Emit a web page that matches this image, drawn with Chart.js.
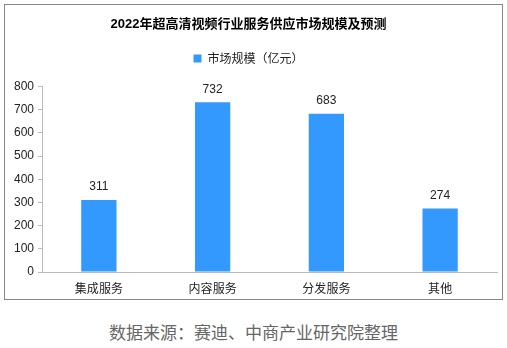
<!DOCTYPE html>
<html><head><meta charset="utf-8">
<script src="https://cdn.jsdelivr.net/npm/chart.js@4"></script>
<style>
body{margin:0;background:#fff;width:507px;height:348px;position:relative;overflow:hidden;font-family:"Noto Sans CJK SC","Liberation Sans",sans-serif;}
#frame{position:absolute;left:4px;top:4px;width:497px;height:294px;border:1px solid #888;}
#wrap{position:absolute;left:0;top:0;width:507px;height:300px;}
#src{position:absolute;left:0;width:507px;top:320px;text-align:center;font-size:17px;color:#666;line-height:24px;}
</style></head><body>
<div id="frame"></div>
<div id="wrap"><canvas id="c" width="507" height="300"></canvas></div>
<div id="src">数据来源：赛迪、中商产业研究院整理</div>
<script>
const categories = ["集成服务","内容服务","分发服务","其他"];
const marketSize = [311,732,683,274];
const seriesName = "市场规模（亿元）";
const chartTitle = "2022年超高清视频行业服务供应市场规模及预测";

const valueLabels = {
  id:'valueLabels',
  afterDatasetsDraw(chart){
    const ctx = chart.ctx;
    const meta = chart.getDatasetMeta(0);
    ctx.save();
    ctx.font = '12px "Liberation Sans", Arial, sans-serif';
    ctx.fillStyle = '#222';
    ctx.textAlign = 'center';
    ctx.textBaseline = 'bottom';
    meta.data.forEach((bar,i)=>{
      ctx.fillText(String(chart.data.datasets[0].data[i]), bar.x, bar.y - 7);
    });
    ctx.restore();
  }
};

const legendGap = {
  id:'legendGap',
  beforeLayout(chart){
    const lg = chart.legend;
    if(lg && !lg._gapPatched){
      const f = lg.fit.bind(lg);
      lg.fit = function(){ f(); this.height += 12; };
      lg._gapPatched = true;
    }
  }
};

new Chart(document.getElementById('c'), {
  type:'bar',
  data:{labels:categories, datasets:[{label:seriesName, data:marketSize, backgroundColor:'#3399ff', categoryPercentage:1, barPercentage:0.31}]},
  options:{
    responsive:false, animation:false,
    layout:{padding:{left:0,right:10,top:0,bottom:0}},
    plugins:{
      title:{display:true, text:chartTitle, color:'#000', font:{size:13, weight:'bold', family:'"Liberation Sans","Noto Sans CJK SC",sans-serif'}, padding:{top:17,bottom:10}},
      legend:{display:true, labels:{boxWidth:8, boxHeight:8, color:'#222', font:{size:12, family:'"Noto Sans CJK SC",sans-serif'}, padding:10}},
      tooltip:{enabled:false}
    },
    scales:{
      x:{grid:{display:false, drawTicks:false}, border:{color:'#bbb'},
         ticks:{color:'#222', padding:9, font:{size:12, family:'"Noto Sans CJK SC",sans-serif'}},
         afterFit(s){s.height=28;}},
      y:{min:0,max:800, ticks:{stepSize:100, color:'#222', padding:4, font:{size:12, family:'"Liberation Sans",Arial,sans-serif'}},
         grid:{drawOnChartArea:false, drawTicks:true, tickLength:4, color:'#bbb'}, border:{color:'#bbb'},
         afterFit(s){s.width=42;}}
    }
  },
  plugins:[valueLabels, legendGap]
});
</script>
</body></html>
